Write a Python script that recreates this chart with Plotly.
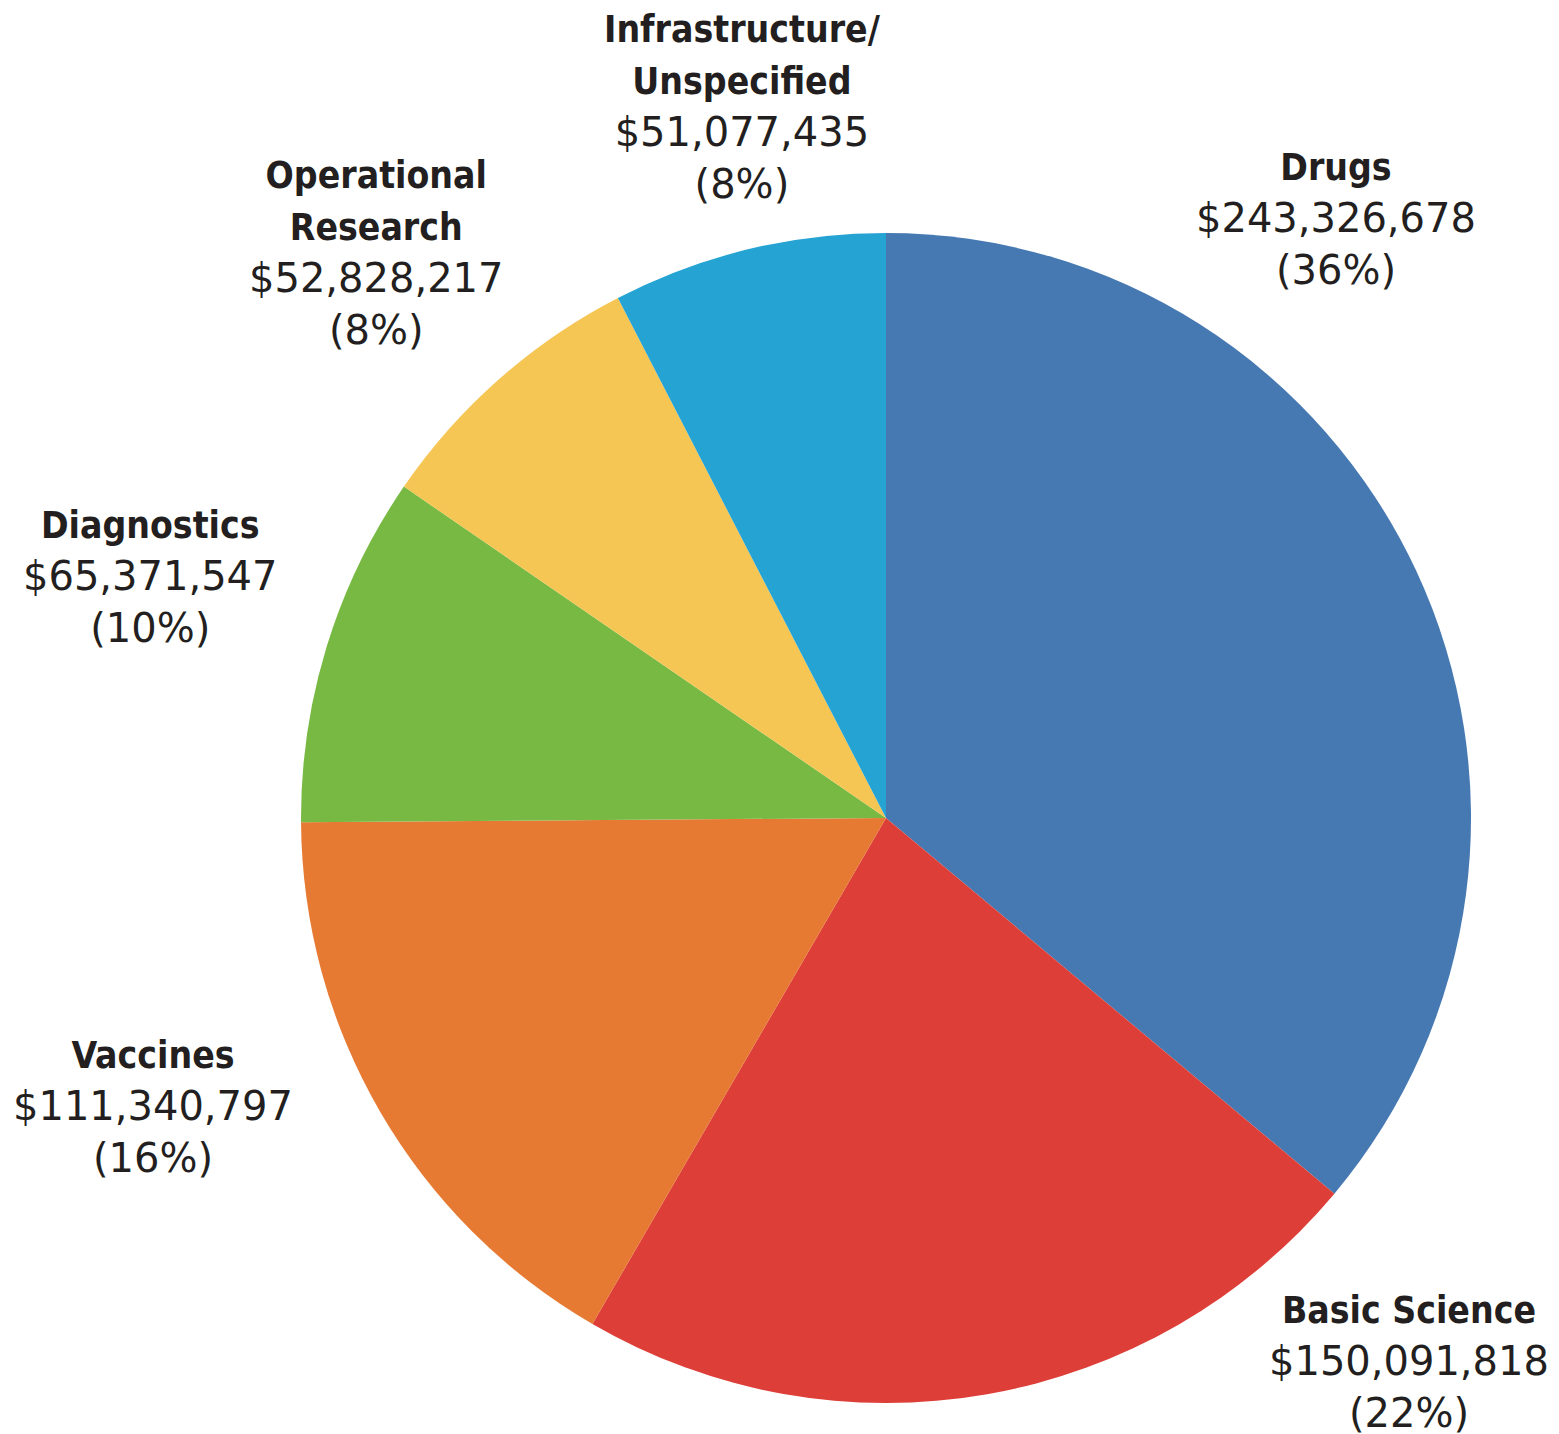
import plotly.graph_objects as go

categories = ["Drugs", "Basic Science", "Vaccines", "Diagnostics",
              "Operational Research", "Infrastructure/Unspecified"]
name_lines = [["Drugs"], ["Basic Science"], ["Vaccines"], ["Diagnostics"],
              ["Operational", "Research"], ["Infrastructure/", "Unspecified"]]
values = [243326678, 150091818, 111340797, 65371547, 52828217, 51077435]
pct_labels = ["36%", "22%", "16%", "10%", "8%", "8%"]
colors = ["#4679B2", "#DD3E37", "#E77A32", "#77B943", "#F6C655", "#25A3D3"]

# label block centres in screen pixels
label_pos = [(1336, 219), (1409, 1362), (153, 1107), (150, 577),
             (376, 254), (742, 107)]

W, H = 1559, 1434
OFF = 8  # page body margin
cx, cy, r = 886 - OFF, 818 - OFF, 585

fig = go.Figure()
fig.add_trace(go.Pie(
    labels=categories, values=values, sort=False, direction="clockwise",
    rotation=0, textinfo="none", hoverinfo="label+value+percent",
    marker=dict(colors=colors, line=dict(width=0)), showlegend=False,
    domain=dict(x=[(cx - r) / W, (cx + r) / W],
                y=[(H - cy - r) / H, (H - cy + r) / H]),
))

BOLD = "font-family:Liberation Sans Narrow, DejaVu Sans Condensed, sans-serif;font-weight:bold;font-size:37px"
for lines, v, p, (x, y) in zip(name_lines, values, pct_labels, label_pos):
    parts = [f"<span style=\"{BOLD}\">{ln}</span>" for ln in lines]
    parts.append(f"${v:,}")
    parts.append(f"({p})")
    fig.add_annotation(
        x=(x - OFF) / W, y=1 - (y - OFF) / H, xref="paper", yref="paper",
        xanchor="center", yanchor="middle", showarrow=False,
        text="<br>".join(parts), align="center",
        font=dict(family="DejaVu Sans", size=40, color="#231F20"),
    )

fig.update_layout(
    width=W, height=H, margin=dict(l=0, r=0, t=0, b=0),
    paper_bgcolor="white", plot_bgcolor="white",
)
fig.write_html("out.html")
